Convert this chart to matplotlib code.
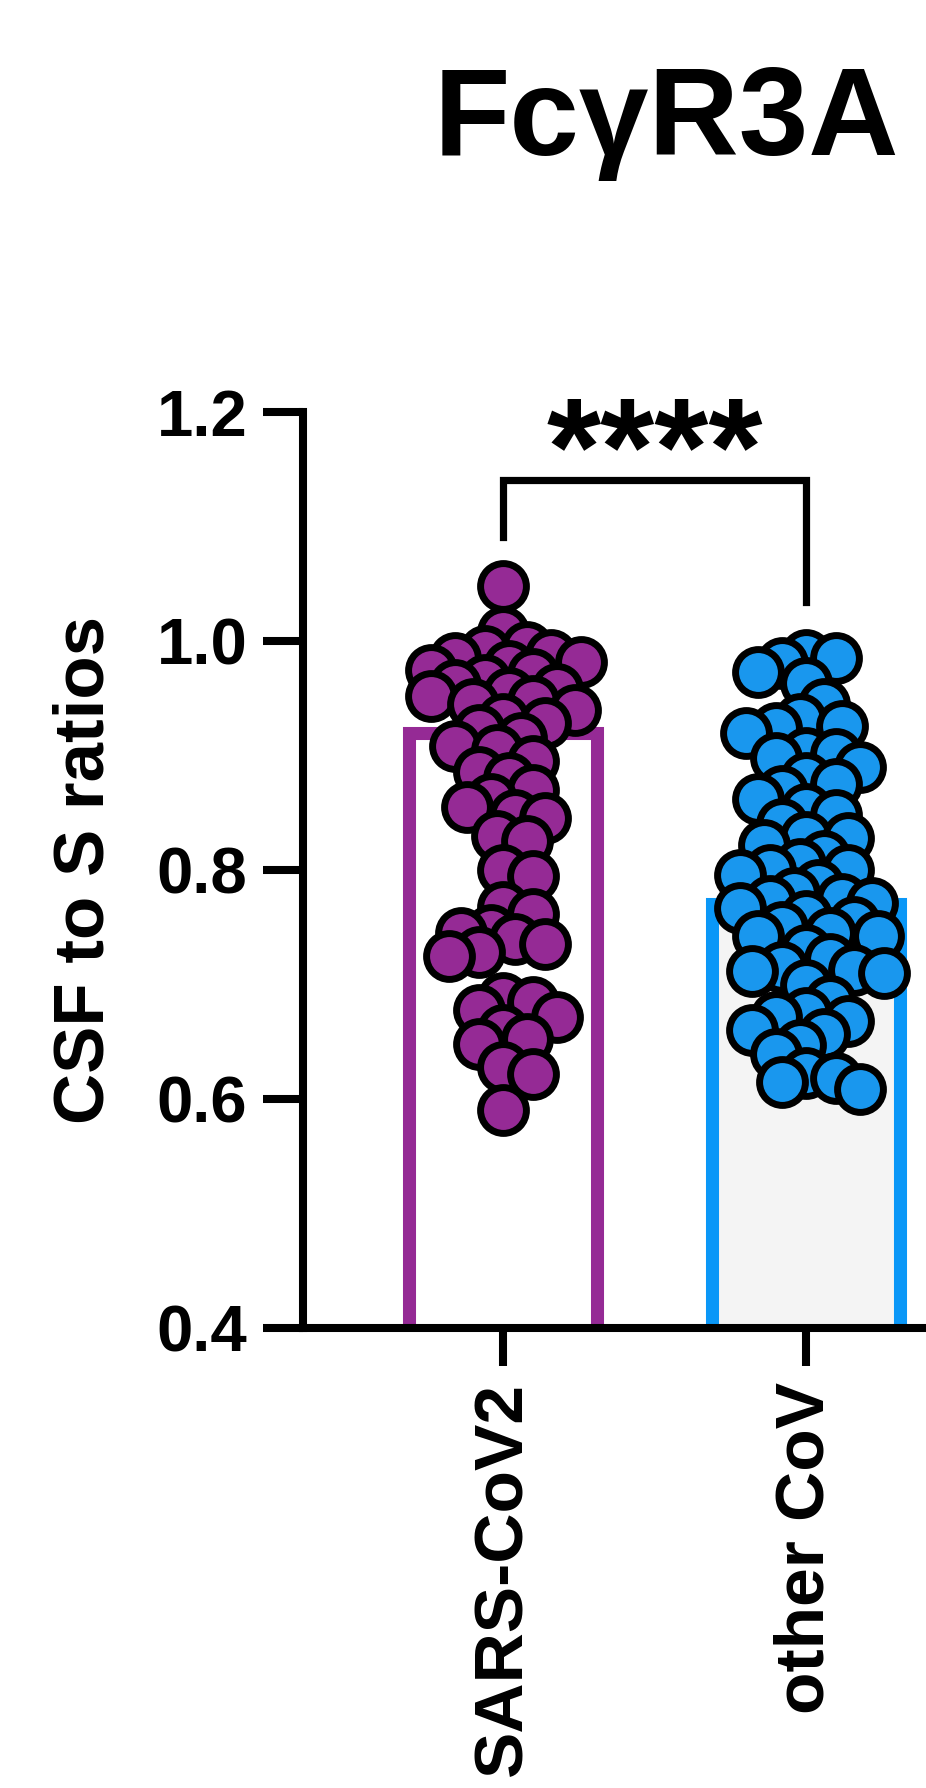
import matplotlib
matplotlib.use('Agg')
import matplotlib.pyplot as plt
import numpy as np

plt.rcParams['font.family'] = ['Liberation Sans', 'DejaVu Sans']
plt.rcParams['font.weight'] = 'bold'

groups = ['SARS-CoV2', 'other CoV']
means = [0.92, 0.77]

sars_cov2 = [1.048, 1.008, 0.995, 0.991, 0.988, 0.985, 0.982, 0.978, 0.975, 0.971,
             0.966, 0.962, 0.958, 0.955, 0.952, 0.948, 0.945, 0.940, 0.932, 0.928,
             0.922, 0.915, 0.908, 0.905, 0.895, 0.886, 0.880, 0.870, 0.862, 0.855,
             0.848, 0.845, 0.830, 0.825, 0.800, 0.795, 0.768, 0.762, 0.748, 0.745,
             0.740, 0.735, 0.728, 0.725, 0.688, 0.685, 0.678, 0.672, 0.660, 0.652,
             0.648, 0.628, 0.622, 0.590]

other_cov = [0.988, 0.985, 0.981, 0.973, 0.963, 0.945, 0.932, 0.926, 0.924, 0.920,
             0.902, 0.901, 0.898, 0.890, 0.880, 0.875, 0.869, 0.862, 0.853, 0.848,
             0.840, 0.829, 0.828, 0.822, 0.812, 0.805, 0.800, 0.800, 0.796, 0.787,
             0.780, 0.775, 0.773, 0.771, 0.767, 0.760, 0.755, 0.750, 0.745, 0.742,
             0.742, 0.730, 0.722, 0.715, 0.713, 0.712, 0.710, 0.700, 0.686, 0.675,
             0.672, 0.668, 0.660, 0.657, 0.647, 0.639, 0.623, 0.618, 0.615, 0.609]

purple = '#952a95'
blue_edge = '#0a97f7'
blue_dot = '#1997ee'

# pixel scale of the axes (used for the swarm layout)
px_per_x = 303.0
px_per_y = 1145.0


def swarm_offsets(vals, min_dist=25.0, step=6.0):
    vals = np.asarray(vals)
    ypx = vals * px_per_y
    placed = []
    offs = np.zeros(len(vals))
    cands = [0.0]
    for k in range(1, 50):
        cands += [k * step, -k * step]
    for i in np.argsort(-vals):
        for c in cands:
            ok = True
            for (px, py) in placed:
                if (c - px) ** 2 + (ypx[i] - py) ** 2 < min_dist ** 2:
                    ok = False
                    break
            if ok:
                break
        placed.append((c, ypx[i]))
        offs[i] = c / px_per_x
    return offs


fig = plt.figure(figsize=(9.26, 17.88), dpi=100)
W, H = 926.0, 1788.0
ax = fig.add_axes([303 / W, (H - 1328) / H, 1309 / W, (1328 - 412) / H])

ax.bar([0, 1], means, width=0.62, color=['white', '#f4f4f4'],
       edgecolor=[purple, blue_edge], linewidth=9.4, zorder=2)

for i, (vals, col) in enumerate([(sars_cov2, purple), (other_cov, blue_dot)]):
    xs = i + swarm_offsets(vals)
    ax.plot(xs, vals, 'o', ms=33, mfc=col, mec='black', mew=5, zorder=3, clip_on=False)

# significance bracket
ax.plot([0, 0, 1, 1], [1.091, 1.141, 1.141, 1.034], color='black', lw=5.2,
        clip_on=False, zorder=4, solid_joinstyle='miter')
ax.text(0.5, 1.128, '****', ha='center', va='baseline', fontsize=100,
        fontweight='bold', clip_on=False)

ax.set_xlim(-0.66, 3.66)
ax.set_ylim(0.4, 1.2)
ax.set_yticks([0.4, 0.6, 0.8, 1.0, 1.2])
ax.set_yticklabels(['0.4', '0.6', '0.8', '1.0', '1.2'])
ax.set_xticks([0, 1])
ax.set_xticklabels(groups, rotation=90, ha='center', va='top')

for s in ['top', 'right']:
    ax.spines[s].set_visible(False)
for s in ['left', 'bottom']:
    ax.spines[s].set_linewidth(5.8)
    ax.spines[s].set_zorder(5)

ax.tick_params(axis='y', length=29, width=5.8, pad=11, labelsize=47)
ax.tick_params(axis='x', length=27, width=5.8, pad=12, labelsize=50)

fig.text(86 / W, 1 - 870 / H, 'CSF to S ratios', rotation=90, ha='center',
         va='center', fontsize=51, fontweight='bold')
fig.text(666 / W, 1 - 155 / H, 'FcγR3A', ha='center', va='baseline',
         fontsize=90, fontweight='bold')

fig.savefig('out.png', dpi=100)
